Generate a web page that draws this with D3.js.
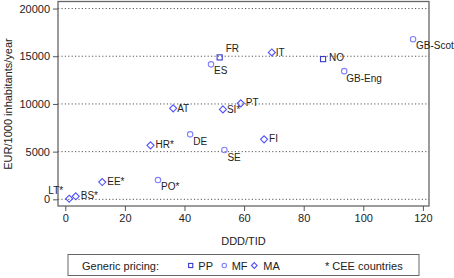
<html>
<head>
<meta charset="UTF-8">
<script src="https://d3js.org/d3.v7.min.js"></script>
<style>
  body { margin: 0; background: #fff; }
  text { font-family: "Liberation Sans", Arial, sans-serif; fill: #222; }
</style>
</head>
<body>
<svg id="chart" width="454" height="278"></svg>
<script>
// data
const countries = ['LT*', 'BS*', 'EE*', 'HR*', 'PO*', 'AT', 'DE', 'ES', 'FR', 'SI*', 'SE', 'PT', 'FI', 'IT', 'NO', 'GB-Eng', 'GB-Scot'];
const dddTid = [1.3, 3.5, 12.4, 28.6, 31.1, 36.2, 41.9, 48.9, 51.8, 52.9, 53.4, 58.9, 66.7, 69.3, 86.5, 93.6, 116.7];
const eurPer1000 = [60, 315, 1810, 5660, 2020, 9540, 6810, 14150, 14880, 9430, 5170, 10060, 6290, 15400, 14700, 13440, 16790];
const pricing = ['MA', 'MA', 'MA', 'MA', 'MF', 'MA', 'MF', 'MF', 'PP', 'MA', 'MF', 'MA', 'MA', 'MA', 'PP', 'MF', 'MF'];
const xTicks = [0, 20, 40, 60, 80, 100, 120];
const yTicks = [0, 5000, 10000, 15000, 20000];

// label placement around each marker
const labelPos = {
  'LT*': [-6, -5], 'BS*': [5, 3], 'EE*': [5, 3], 'HR*': [5, 3], 'PO*': [3, 10],
  'AT': [4, 4], 'DE': [3, 11], 'ES': [3, 10], 'FR': [6, -5], 'SI*': [4, 4],
  'SE': [3, 11], 'PT': [5, 3], 'FI': [5, 3], 'IT': [4, 4], 'NO': [6, 2],
  'GB-Eng': [2, 11], 'GB-Scot': [3, 10]
};
const colors = { PP: '#3b3bd0', MF: '#7f7fff', MA: '#5050ff' };

const svg = d3.select('#chart');
const x = d3.scaleLinear().domain([-2.45, 122.05]).range([58, 429]);
const y = d3.scaleLinear().domain([-700, 20740]).range([206, 1.5]);

// grid lines
svg.append('g').selectAll('line')
  .data(yTicks).enter().append('line')
  .attr('x1', x.range()[0]).attr('x2', x.range()[1])
  .attr('y1', d => y(d)).attr('y2', d => y(d))
  .attr('stroke', '#444').attr('stroke-width', 0.9)
  .attr('stroke-dasharray', '1.2,2.2');

// frame
svg.append('rect')
  .attr('x', 58).attr('y', 1.5)
  .attr('width', 429 - 58).attr('height', 206 - 1.5)
  .attr('fill', 'none').attr('stroke', '#666').attr('stroke-width', 1.3);

const xAxis = svg.append('g')
  .attr('transform', 'translate(0,206)')
  .call(d3.axisBottom(x).tickValues(xTicks).tickSize(5).tickPadding(3));
const yAxis = svg.append('g')
  .attr('transform', 'translate(58,0)')
  .call(d3.axisLeft(y).tickValues(yTicks).tickSize(5).tickPadding(3).tickFormat(d3.format('d')));
[xAxis, yAxis].forEach(a => {
  a.select('.domain').remove();
  a.selectAll('.tick line').attr('stroke', '#555');
  a.selectAll('.tick text').style('font-size', '11px').attr('fill', '#222');
});

// axis titles
svg.append('text').attr('x', 243.5).attr('y', 245)
  .attr('text-anchor', 'middle').style('font-size', '11px').text('DDD/TID');
svg.append('text').attr('transform', 'translate(12,104) rotate(-90)')
  .attr('text-anchor', 'middle').style('font-size', '11px').text('EUR/1000 inhabitants/year');

// markers
const pts = svg.append('g').selectAll('g')
  .data(countries.map((c, i) => ({ c, x: dddTid[i], y: eurPer1000[i], p: pricing[i] })))
  .enter().append('g')
  .attr('transform', d => `translate(${x(d.x)},${y(d.y)})`);

function drawMarker(g, type, size) {
  const col = colors[type];
  if (type === 'PP') {
    g.append('rect').attr('x', -size * 0.8).attr('y', -size * 0.8)
      .attr('width', size * 1.6).attr('height', size * 1.6)
      .attr('fill', 'none').attr('stroke', col).attr('stroke-width', 1.1);
  } else if (type === 'MF') {
    g.append('circle').attr('r', size * 0.85)
      .attr('fill', 'none').attr('stroke', col).attr('stroke-width', 1.1);
  } else {
    g.append('path').attr('d', `M0,${-size * 1.1}L${size * 1.1},0L0,${size * 1.1}L${-size * 1.1},0Z`)
      .attr('fill', 'none').attr('stroke', col).attr('stroke-width', 1.1);
  }
}
pts.each(function (d) { drawMarker(d3.select(this), d.p, 3.2); });

pts.append('text')
  .attr('x', d => labelPos[d.c][0]).attr('y', d => labelPos[d.c][1])
  .attr('text-anchor', d => labelPos[d.c][0] < 0 ? 'end' : 'start')
  .style('font-size', '10px').attr('fill', '#333')
  .text(d => d.c);

// legend
const legend = svg.append('g');
legend.append('rect').attr('x', 68).attr('y', 254.5).attr('width', 351).attr('height', 21)
  .attr('fill', '#fff').attr('stroke', '#666').attr('stroke-width', 1);
legend.append('text').attr('x', 82).attr('y', 269.5).style('font-size', '11px').text('Generic pricing:');
const legendItems = ['PP', 'MF', 'MA'];
const legendX = [190.7, 224.3, 254.3];
const legendTextX = [198.3, 231.7, 263.3];
legendItems.forEach((k, i) => {
  const g = legend.append('g').attr('transform', `translate(${legendX[i]},265.5)`);
  drawMarker(g, k, 2.6);
  legend.append('text').attr('x', legendTextX[i]).attr('y', 269.5).style('font-size', '11px').text(k);
});
legend.append('text').attr('x', 325).attr('y', 269.5).style('font-size', '11px').text('* CEE countries');
</script>
</body>
</html>
